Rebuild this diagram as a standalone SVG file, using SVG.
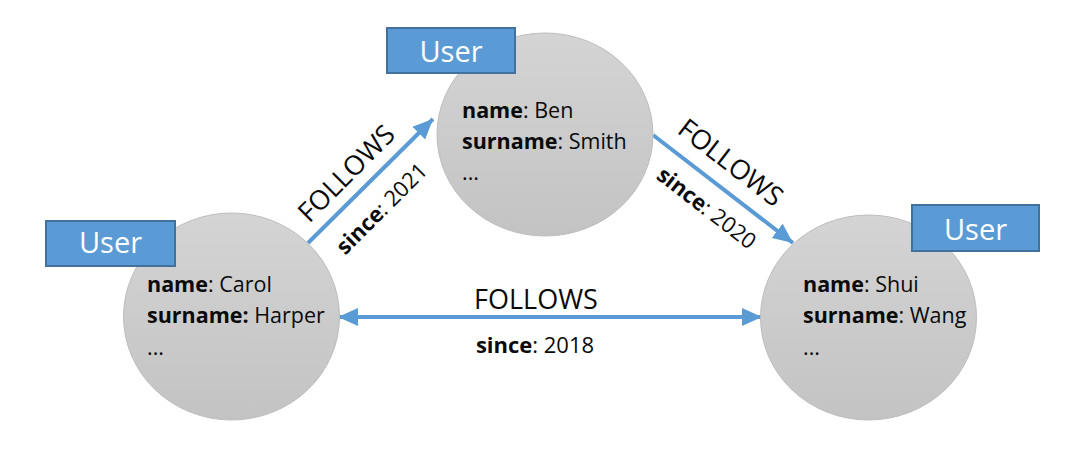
<svg xmlns="http://www.w3.org/2000/svg" width="1092" height="470" viewBox="0 0 1092 470">
<defs>
<linearGradient id="g" x1="0" y1="0" x2="0" y2="1">
<stop offset="0" stop-color="#d4d4d4"/>
<stop offset="1" stop-color="#c3c3c3"/>
</linearGradient>
<marker id="ah" markerUnits="userSpaceOnUse" markerWidth="22" markerHeight="18" refX="20" refY="9" orient="auto-start-reverse">
<path d="M0,0 L20,9 L0,18 Z" fill="#5b9bd5"/>
</marker>
</defs>
<style>
.c{fill:url(#g);stroke:#bdbdbd;stroke-width:1}
.b{fill:#5b9bd5;stroke:#41719c;stroke-width:2}
.u{font-family:"Open Sans","Noto Sans",sans-serif;font-size:29px;fill:#fff;text-anchor:middle}
.t{font-family:"Open Sans","Noto Sans",sans-serif;font-size:21.5px;fill:#0a0a0a}
.t tspan.k{font-weight:bold}
.e{stroke:#5b9bd5;stroke-width:4;fill:none}
.l{font-family:"Open Sans","Noto Sans",sans-serif;font-size:27px;fill:#0a0a0a;text-anchor:middle}
.s{font-family:"Open Sans","Noto Sans",sans-serif;font-size:22px;fill:#0a0a0a;text-anchor:middle}
.s tspan.k{font-weight:bold}
</style>
<g id="connectors">
<line class="e" x1="308" y1="243" x2="433" y2="119" marker-end="url(#ah)"/>
<line class="e" x1="653" y1="135" x2="793" y2="243" marker-end="url(#ah)"/>
<line class="e" x1="338" y1="317" x2="762" y2="317" marker-start="url(#ah)" marker-end="url(#ah)"/>
<text class="l" x="353" y="180" transform="rotate(-45 353 180)">FOLLOWS</text>
<text class="s" x="387" y="214" transform="rotate(-45 387 214)"><tspan class="k">since</tspan>: 2021</text>
<text class="l" x="725" y="170" transform="rotate(37.6 725 170)">FOLLOWS</text>
<text class="s" x="702" y="214" transform="rotate(37.6 702 214)"><tspan class="k">since</tspan>: 2020</text>
<text class="l" x="536" y="309">FOLLOWS</text>
<text class="s" x="535" y="353"><tspan class="k">since</tspan>: 2018</text>
</g>
<g id="carol">
<ellipse class="c" cx="231.5" cy="316.5" rx="108" ry="103.5"/>
<rect class="b" x="46" y="221" width="129" height="45"/>
<text class="u" x="110.5" y="253">User</text>
<text class="t" x="147" y="292"><tspan class="k">name</tspan>: Carol</text>
<text class="t" x="147" y="323"><tspan class="k">surname:</tspan> Harper</text>
<text class="t" x="147" y="355">...</text>
</g>
<g id="ben">
<ellipse class="c" cx="545" cy="134.5" rx="108" ry="101.5"/>
<rect class="b" x="387" y="28" width="128" height="45"/>
<text class="u" x="451" y="62">User</text>
<text class="t" x="462" y="118"><tspan class="k">name</tspan>: Ben</text>
<text class="t" x="462" y="149"><tspan class="k">surname</tspan>: Smith</text>
<text class="t" x="462" y="180">...</text>
</g>
<g id="shui">
<ellipse class="c" cx="868.5" cy="317.5" rx="108" ry="102.5"/>
<rect class="b" x="912" y="205" width="127" height="46"/>
<text class="u" x="975.5" y="240">User</text>
<text class="t" x="803" y="292"><tspan class="k">name</tspan>: Shui</text>
<text class="t" x="803" y="323"><tspan class="k">surname</tspan>: Wang</text>
<text class="t" x="803" y="355">...</text>
</g>
</svg>
